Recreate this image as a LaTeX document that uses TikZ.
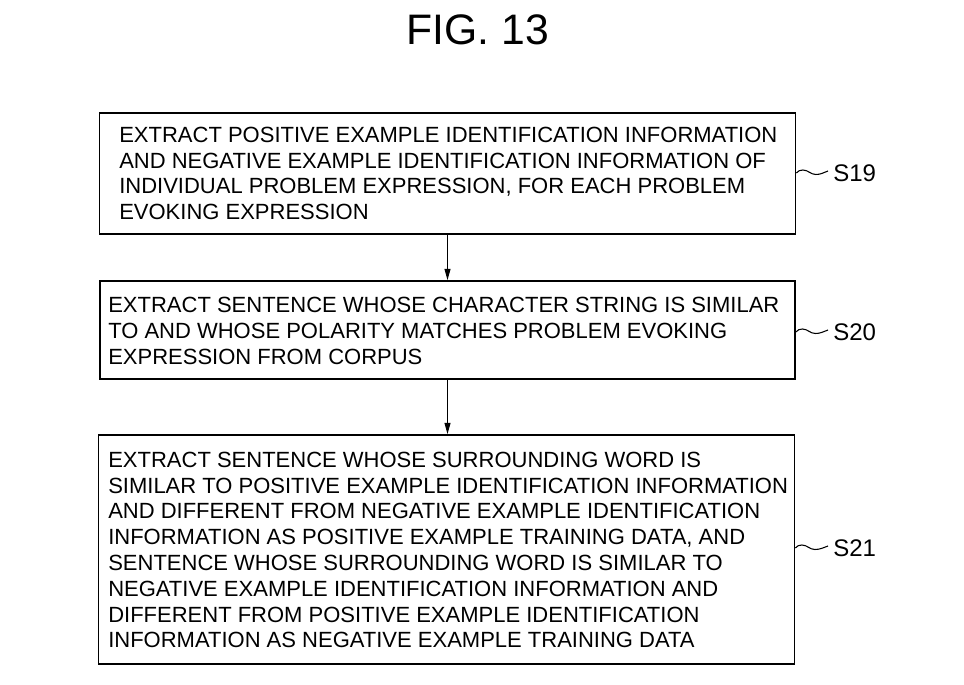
\documentclass[tikz,border=0pt]{standalone}
\usepackage{fontspec}
\setmainfont{Liberation Sans}
\usetikzlibrary{arrows.meta,calc}
\begin{document}
\begin{tikzpicture}[x=0.75pt,y=0.75pt,
  stepbox/.style={draw=black, line width=1.3pt, inner sep=0pt},
  steptext/.style={anchor=west, align=left, inner sep=0pt,
    font=\fontsize{16.5}{19.35}\selectfont},
  steplabel/.style={anchor=west, inner sep=0pt, font=\fontsize{18}{20}\selectfont},
  flow/.style={line width=0.8pt, -{Triangle[length=8.5pt,width=4.5pt]}},
  squiggle/.style={line width=0.8pt}]
  \useasboundingbox (0,0) rectangle (964,685);
  \fill[white] (0,0) rectangle (964,685);

  % title
  \node[inner sep=0pt, font=\fontsize{32}{34}\selectfont] (title) at (478,655) {FIG. 13};

  % step boxes (sizes in pt: 0.75pt per unit)
  \node[stepbox, minimum width=522pt, minimum height=90.75pt] (s19) at (447.5,511.5) {};
  \node[stepbox, minimum width=521.25pt, minimum height=73.5pt] (s20) at (447.5,355) {};
  \node[stepbox, minimum width=522pt, minimum height=171.75pt] (s21) at (446.5,135.5) {};

  % step texts
  \node[steptext] (t19) at (119,511.5) {EXTRACT POSITIVE EXAMPLE IDENTIFICATION INFORMATION\\
    AND NEGATIVE EXAMPLE IDENTIFICATION INFORMATION OF\\
    INDIVIDUAL PROBLEM EXPRESSION, FOR EACH PROBLEM\\
    EVOKING EXPRESSION};
  \node[steptext] (t20) at (108,354) {EXTRACT SENTENCE WHOSE CHARACTER STRING IS SIMILAR\\
    TO AND WHOSE POLARITY MATCHES PROBLEM EVOKING\\
    EXPRESSION FROM CORPUS};
  \node[steptext] (t21) at (108,135) {EXTRACT SENTENCE WHOSE SURROUNDING WORD IS\\
    SIMILAR TO POSITIVE EXAMPLE IDENTIFICATION INFORMATION\\
    AND DIFFERENT FROM NEGATIVE EXAMPLE IDENTIFICATION\\
    INFORMATION AS POSITIVE EXAMPLE TRAINING DATA, AND\\
    SENTENCE WHOSE SURROUNDING WORD IS SIMILAR TO\\
    NEGATIVE EXAMPLE IDENTIFICATION INFORMATION AND\\
    DIFFERENT FROM POSITIVE EXAMPLE IDENTIFICATION\\
    INFORMATION AS NEGATIVE EXAMPLE TRAINING DATA};

  % flow arrows (kept vertical)
  \draw[flow] (s19.south) -- (s19.south |- s20.north);
  \draw[flow] (s20.south) -- (s20.south |- s21.north);

  % step labels
  \node[steplabel] (l19) at (833,512) {S19};
  \node[steplabel] (l20) at (833,353) {S20};
  \node[steplabel] (l21) at (833,137) {S21};

  % leader squiggles from each box to its step number
  \foreach \b/\l in {s19/l19, s20/l20, s21/l21}{
    \draw[squiggle] ($(\b.east |- \l.west)$) to[out=50,in=180] ++(6.5,3)
      to[out=0,in=180] ++(13,-4.5) to[out=0,in=200] ($(\l.west)+(-5,2)$);
  }
\end{tikzpicture}
\end{document}
